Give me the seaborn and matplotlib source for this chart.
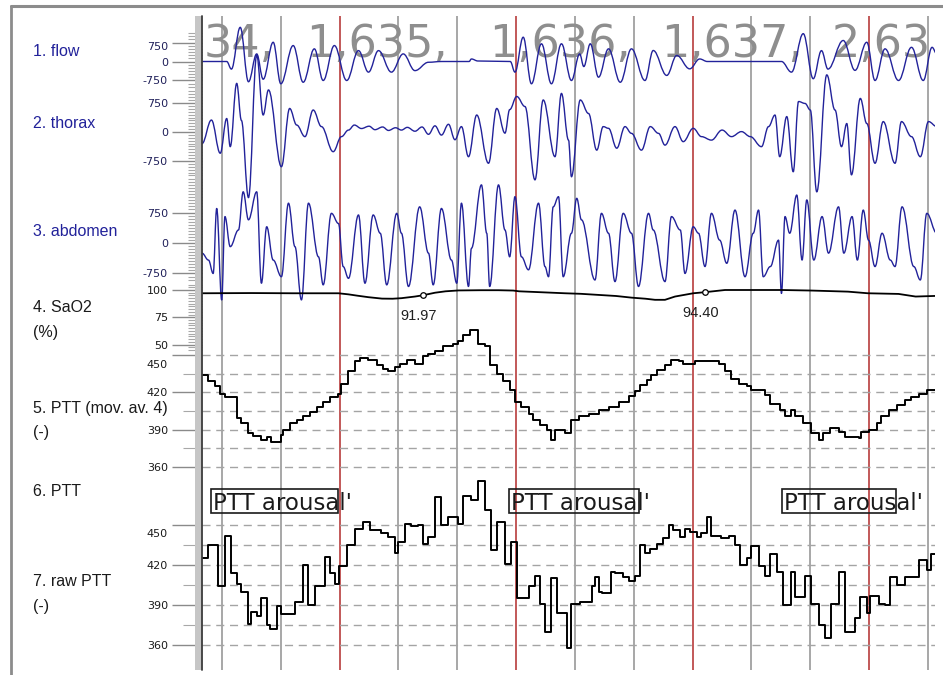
import matplotlib
matplotlib.use("Agg")
import matplotlib.pyplot as plt
import matplotlib.transforms as mtransforms
from matplotlib.patches import Rectangle, PathPatch
from matplotlib.path import Path
from matplotlib.lines import Line2D
import numpy as np
import seaborn as sns

# --- Signals: (time in s, value) ---
flow = [(-3.4, 0), (0.8, 0), (1.6, -300), (3.1, 1350), (4.5, -800), (5.9, 300), (7.0, -700),
        (8.7, 760), (10.0, -880), (12.1, 630), (13.8, -820), (15.7, 500), (17.2, -750), (19.1, 630),
        (21.2, -750), (23.2, 430), (24.9, -420), (26.6, 430), (28.8, -420), (30.8, 300), (32.8, -360),
        (35.1, -30), (37.3, 0), (42.0, 0), (42.4, 100), (43.5, 20), (49.0, 0), (49.8, -420),
        (51.2, 960), (52.6, -880), (54.3, 700), (56.0, -880), (57.7, 700), (59.4, -750), (60.8, 300),
        (61.5, -200), (62.6, 700), (64.0, -620), (65.7, 500), (67.7, -820), (69.6, 500), (71.9, -750),
        (73.3, 435), (75.6, -550), (77.3, 240), (79.5, -290), (81.2, 100), (82.5, 0), (95.1, 0),
        (96.8, -420), (98.8, 1100), (100.5, -680), (101.9, 430), (103.0, -300), (105.6, 830),
        (107.6, -350), (109.6, 760), (111.0, -750), (112.7, 500), (115.0, -750), (117.2, 560),
        (119.2, -750), (120.7, 560), (121.5, 300)]

thorax = [(-3.4, -300), (-1.8, 310), (-0.3, -550), (0.8, 350), (1.4, -380), (2.5, 1260), (3.3, 300),
          (4.5, -1700), (5.9, 1990), (7.0, 440), (7.9, 1090), (10.1, -900), (11.5, 610), (12.7, 180),
          (14.1, -120), (15.5, 570), (16.9, 140), (18.9, -510), (20.3, -120), (21.5, 50), (22.5, 180),
          (23.7, 90), (25.0, 150), (26.0, 60), (27.3, 130), (28.3, 40), (29.5, 110), (30.5, 50),
          (31.5, 120), (32.8, 20), (34.0, 130), (35.1, -60), (36.2, 160), (37.3, -80), (38.5, 200),
          (39.6, -200), (40.7, 140), (41.9, -640), (43.3, 440), (45.3, -810), (46.7, 610), (48.1, -30),
          (48.9, 580), (50.1, 920), (51.5, 660), (53.2, -1240), (54.6, 830), (56.6, -640), (57.7, 1000),
          (58.9, -210), (59.4, -1160), (60.9, 830), (62.3, 480), (63.7, -470), (64.8, 140), (65.7, 95),
          (67.1, -420), (68.5, 140), (69.6, -35), (71.3, -470), (72.8, 140), (74.2, -35), (75.3, -340),
          (77.0, 140), (78.4, -250), (80.1, 95), (81.5, -120), (83.2, -210), (85.0, 50), (86.6, -120),
          (88.3, 10), (89.8, -120), (91.7, -380), (92.9, 140), (94.0, 440), (94.8, -640), (96.0, 400),
          (97.1, -1030), (98.0, 790), (99.1, 740), (100.0, 570), (101.1, -1550), (102.8, 1480),
          (104.2, 570), (105.3, -380), (106.2, 220), (107.0, -1110), (108.5, 870), (109.6, 220),
          (111.0, -810), (112.4, 270), (114.4, -810), (115.5, 270), (117.2, -120), (118.7, -640),
          (120.1, 270), (121.5, 140)]

abdomen = [(-3.4, -250), (-2.3, -420), (-1.5, -750), (-0.9, 850), (-0.05, -1400), (0.5, 650), (1.4, -90),
           (2.8, 320), (3.6, 1260), (4.5, 570), (5.9, 1260), (6.7, -990), (7.6, 400), (8.7, -420),
           (10.1, -830), (11.3, 980), (12.4, -90), (13.5, -1400), (14.7, 980), (16.4, -340), (17.2, -1030),
           (18.6, 730), (19.8, 480), (20.6, -580), (21.5, -870), (23.2, 690), (24.3, -990), (25.7, 690),
           (26.9, 240), (28.0, -1030), (29.7, 730), (30.5, 240), (31.7, -1070), (33.6, 890), (35.1, -250),
           (35.9, -1030), (37.3, 850), (39.0, -420), (39.9, -990), (40.7, 980), (41.9, -1070), (42.4, -130),
           (44.1, 1430), (45.0, 240), (45.5, -1070), (47.0, 1430), (48.1, 320), (48.9, -340), (49.8, 1140),
           (50.9, -340), (52.1, -660), (53.8, 980), (54.9, -580), (55.5, -830), (56.3, 890), (57.2, 1140),
           (58.0, -830), (59.4, 240), (60.3, 1100), (61.1, 570), (63.4, -910), (64.5, 730), (65.7, 240),
           (66.8, -950), (68.2, 730), (69.6, 240), (70.8, -1070), (72.5, 730), (73.3, 320), (75.3, -950),
           (76.4, 650), (77.9, 320), (78.7, -750), (80.1, 400), (81.0, 240), (82.1, -580), (83.2, 730),
           (84.6, 70), (85.8, -500), (87.2, 810), (88.9, -830), (90.3, 240), (91.2, 810), (92.0, -830),
           (93.2, -580), (94.6, 70), (95.1, -1240), (95.7, 650), (96.5, 240), (97.7, 1180), (98.6, -420),
           (99.4, 1060), (100.6, -420), (102.0, 650), (103.1, -250), (104.8, 890), (105.7, -250),
           (107.1, 650), (108.0, -420), (109.0, 810), (109.9, 70), (111.0, -580), (112.2, 240),
           (113.6, -420), (114.4, -580), (115.6, 890), (117.6, -580), (118.7, -910), (119.8, 730),
           (121.5, 240)]

sao2 = [(-3.4, 97.0), (5.0, 97.2), (12.0, 97.0), (19.8, 97.0), (21.5, 96.0), (23.0, 94.8), (24.9, 93.4),
        (27.2, 92.1), (29.0, 92.0), (30.5, 92.5), (32.8, 94.0), (34.2, 95.2), (36.2, 97.5), (38.0, 98.8),
        (40.2, 99.6), (44.0, 99.8), (47.0, 99.8), (49.5, 99.5), (50.5, 98.8), (54.0, 98.0), (58.3, 97.0),
        (61.0, 96.5), (64.0, 95.5), (67.0, 94.5), (69.6, 93.0), (72.0, 92.0), (73.6, 91.0), (75.3, 91.0),
        (77.0, 94.0), (80.1, 97.0), (82.1, 98.0), (85.5, 100.0), (95.1, 100.0), (100.2, 99.5),
        (106.4, 98.5), (109.8, 97.0), (115.0, 96.4), (117.9, 94.0), (121.5, 94.6)]
sao2_min_t = [34.2, 82.1]
sao2_min_v = [95.2, 98.0]
sao2_min_labels = ['91.97', '94.40']

ptt_avg = [(-3.4, 434), (-2.3, 429), (-1.2, 425), (-0.3, 419), (0.5, 416), (2.5, 399), (3.3, 395),
           (4.5, 387), (5.3, 385), (6.7, 382), (7.6, 384), (8.4, 380), (10.1, 386), (10.4, 390), (11.5, 395),
           (12.7, 398), (13.8, 401), (15.0, 404), (16.1, 408), (17.2, 412), (18.4, 416), (19.8, 419),
           (20.3, 427), (21.5, 437), (22.6, 445), (23.5, 448), (24.9, 446), (26.3, 442), (27.4, 439),
           (28.3, 437), (29.4, 440), (30.3, 443), (31.4, 446), (32.8, 443), (34.2, 449), (35.1, 451),
           (36.2, 453), (37.6, 457), (39.3, 459), (40.2, 461), (41.0, 466), (42.1, 470), (43.6, 459),
           (44.7, 457), (45.5, 442), (46.7, 435), (47.8, 429), (48.9, 422), (49.8, 412), (50.9, 408),
           (52.1, 403), (52.9, 398), (54.1, 394), (55.2, 390), (56.0, 382), (56.6, 390), (58.3, 387),
           (59.4, 398), (60.6, 401), (62.3, 403), (64.0, 406), (65.7, 408), (67.4, 412), (69.1, 417),
           (70.2, 421), (71.1, 426), (72.2, 430), (73.0, 434), (73.9, 438), (75.3, 442), (76.4, 446),
           (77.6, 445), (78.4, 443), (80.4, 445), (84.4, 443), (85.5, 437), (86.6, 431), (87.8, 427),
           (89.2, 425), (90.0, 422), (92.3, 418), (93.2, 411), (94.8, 406), (95.7, 401), (96.8, 406),
           (97.4, 401), (98.8, 395), (100.2, 387), (101.4, 382), (102.2, 387), (103.3, 391), (104.8, 388),
           (105.9, 384), (108.2, 383), (108.7, 388), (109.9, 390), (111.3, 395), (112.1, 401), (113.3, 406),
           (114.7, 410), (116.1, 414), (117.2, 416), (118.4, 419), (119.8, 422), (121.5, 422)]

ptt_raw = [(-3.4, 425), (-2.3, 435), (-0.6, 404), (0.5, 442), (1.5, 414), (2.5, 406), (3.3, 400),
           (4.4, 376), (5.0, 385), (5.9, 382), (6.7, 395), (7.6, 375), (8.2, 372), (9.3, 389), (10.0, 383),
           (12.4, 392), (13.8, 420), (14.6, 390), (15.8, 404), (17.5, 426), (18.4, 414), (19.2, 406),
           (19.9, 419), (21.2, 435), (22.6, 447), (24.0, 452), (25.2, 446), (27.1, 444), (28.3, 441),
           (29.4, 429), (30.0, 437), (31.1, 451), (32.2, 449), (33.4, 450), (34.2, 436), (35.1, 441),
           (36.2, 471), (37.3, 450), (38.5, 456), (40.2, 451), (41.0, 472), (42.4, 469), (43.6, 483),
           (44.7, 461), (45.8, 431), (46.7, 452), (48.1, 421), (49.2, 437), (50.1, 395), (52.1, 404),
           (53.2, 412), (54.1, 391), (54.9, 370), (55.9, 410), (56.9, 384), (58.6, 358), (59.4, 391),
           (60.9, 392), (62.9, 404), (63.4, 411), (64.0, 400), (64.6, 399), (66.2, 415), (66.8, 414),
           (68.2, 411), (69.1, 408), (70.2, 412), (71.1, 435), (71.9, 429), (72.8, 432), (73.9, 436),
           (75.0, 440), (75.9, 450), (76.7, 446), (77.9, 441), (78.7, 447), (79.6, 445), (80.7, 441),
           (81.5, 444), (82.4, 456), (83.2, 442), (84.9, 440), (86.1, 442), (87.2, 435), (88.0, 420),
           (89.2, 425), (90.0, 434), (91.2, 419), (92.3, 412), (93.2, 428), (94.3, 415), (95.4, 390),
           (96.8, 415), (97.4, 396), (99.1, 412), (100.2, 391), (101.4, 375), (102.5, 365), (103.6, 391),
           (104.8, 415), (105.9, 370), (107.6, 380), (108.4, 396), (109.6, 384), (110.1, 397),
           (111.6, 391), (112.7, 390), (113.5, 411), (114.7, 405), (116.1, 411), (118.4, 424),
           (119.8, 416), (120.6, 428), (121.5, 428)]

# epoch numbers as they show in the visible window (cut at both ends)
epoch_labels = ['34,', '1,635,', '1,636,', '1,637,', '2,63']
epoch_label_t = [-3.2, 14.3, 45.4, 74.6, 103.7]
grid_t = [0, 10, 30, 40, 60, 70, 90, 100, 120]
epoch_t = [20, 50, 80, 110]
arousal_start = [-1.9, 48.8, 95.2]
arousal_end = [19.7, 70.9, 114.6]
arousal_text = "PTT arousal'"

channel_labels = ['1. flow', '2. thorax', '3. abdomen', '4. SaO2', '(%)',
                  '5. PTT (mov. av. 4)', '(-)', '6. PTT', '7. raw PTT', '(-)']
channel_label_y = [52, 123, 232, 308, 332, 408, 433, 491, 581, 607]
channel_label_blue = [True, True, True, False, False, False, False, False, False, False]

resp_ticks = [-750, 0, 750]
sao2_ticks = [50, 75, 100]
ptt_ticks = [360, 390, 420, 450]
ptt_grid = [360, 375, 390, 405, 420, 435, 450]

# --- Styling ---
sns.set_style("white")
plt.rcParams['font.family'] = ['Liberation Sans', 'DejaVu Sans']

BLUE = '#22229a'
TICK_BLUE = '#20205a'
INK = '#1a1a1a'
W, H = 943, 675
fig = plt.figure(figsize=(W / 100, H / 100), dpi=100)
fig.patch.set_facecolor('white')


def fx(px):
    return px / W


def fy(py):
    return 1 - py / H


PLOT_L, PLOT_R, PLOT_T, PLOT_B = 202, 935, 16, 670
T0_PX, PX_PER_S = 222, 5.883
XLIM = ((PLOT_L - T0_PX) / PX_PER_S, (PLOT_R - T0_PX) / PX_PER_S)
RECT = [fx(PLOT_L), fy(PLOT_B), (PLOT_R - PLOT_L) / W, (PLOT_B - PLOT_T) / H]
TICK_FS = 8
LABEL_RIGHT_PX = 168


def new_axes(z):
    ax = fig.add_axes(RECT, zorder=z)
    ax.patch.set_visible(False)
    for s in ax.spines.values():
        s.set_visible(False)
    return ax


def set_scale(ax, ref_val, ref_px, per_px):
    # value ref_val sits at pixel row ref_px, per_px units per screen pixel
    ax.set_xlim(*XLIM)
    ax.set_ylim(ref_val + (ref_px - PLOT_B) * per_px, ref_val + (ref_px - PLOT_T) * per_px)
    ax.set_xticks([])
    ax.set_xlabel('')
    ax.set_ylabel('')


def style_ticks(ax, major, minor, label_color, minor_len, hide=None):
    ax.set_yticks(major)
    ax.set_yticklabels(['' if v == hide else str(v) for v in major])
    ax.set_yticks(minor, minor=True)
    ax.tick_params(axis='y', which='major', left=True, length=21.6, width=1.0, color='#8a8a8a',
                   pad=2.9, labelsize=TICK_FS, labelcolor=label_color)
    ax.tick_params(axis='y', which='minor', left=True, length=minor_len, width=0.8, color='#a8a8a8')
    for lbl in ax.get_yticklabels():
        lbl.set_fontfamily('DejaVu Sans')


def shifted_label(text, y_px, color):
    # the screen nudges crowded scale labels off their tick
    fig.text(fx(LABEL_RIGHT_PX), fy(y_px), text, fontsize=TICK_FS, family='DejaVu Sans',
             color=color, ha='right', va='center')


def trace(ax, pairs, color, lw, steps=False):
    t = [p[0] for p in pairs]
    v = [p[1] for p in pairs]
    kw = {'drawstyle': 'steps-post'} if steps else {}
    sns.lineplot(x=t, y=v, ax=ax, color=color, linewidth=lw, estimator=None, sort=False, **kw)


def wave(ax, pairs, color, lw):
    # breathing traces: the read turning points joined by flat-tangent Bezier arcs
    verts = [pairs[0]]
    codes = [Path.MOVETO]
    for (t0, v0), (t1, v1) in zip(pairs[:-1], pairs[1:]):
        d = (t1 - t0) * 0.38
        verts += [(t0 + d, v0), (t1 - d, v1), (t1, v1)]
        codes += [Path.CURVE4] * 3
    ax.add_patch(PathPatch(Path(verts, codes), fill=False, edgecolor=color, linewidth=lw,
                           joinstyle='round'))


# --- Grid, epoch numbers ---
ax_g = new_axes(0)
ax_g.set_xlim(*XLIM)
ax_g.set_ylim(0, 1)
ax_g.set_xticks([])
ax_g.set_yticks([])
for t in grid_t:
    ax_g.axvline(t, color='#909090', lw=1.1)
for t in epoch_t:
    ax_g.axvline(t, color='#b83c3c', lw=1.2)
blend_g = mtransforms.blended_transform_factory(ax_g.transData, ax_g.transAxes)
for t, lab in zip(epoch_label_t, epoch_labels):
    ax_g.text(t, (PLOT_B - 57) / (PLOT_B - PLOT_T), lab, transform=blend_g, fontsize=32,
              color='#8e8e8e', family='DejaVu Sans', ha='left', va='baseline', clip_on=True)

# --- Respiratory channels ---
ax_abd = new_axes(1)
wave(ax_abd, abdomen, BLUE, 1.0)
set_scale(ax_abd, 0, 243, 24.6)
style_ticks(ax_abd, resp_ticks, np.arange(-900, 1576, 75), TICK_BLUE, 10)

ax_tho = new_axes(2)
wave(ax_tho, thorax, BLUE, 1.0)
set_scale(ax_tho, 0, 132, 25.9)
style_ticks(ax_tho, resp_ticks, np.arange(-1125, 1051, 75), TICK_BLUE, 10)

ax_flow = new_axes(3)
wave(ax_flow, flow, BLUE, 1.0)
set_scale(ax_flow, 0, 61.5, 39.5)
style_ticks(ax_flow, resp_ticks, np.arange(-1000, 1126, 125), TICK_BLUE, 10, hide=750)
shifted_label('750', 46.5, TICK_BLUE)

# --- SaO2 ---
ax_sat = new_axes(4)
trace(ax_sat, sao2, 'black', 1.3)
sns.scatterplot(x=sao2_min_t, y=sao2_min_v, ax=ax_sat, marker='o', s=16, color='white',
                edgecolor='black', linewidth=0.9, zorder=5)
for t, v, lab in zip(sao2_min_t, sao2_min_v, sao2_min_labels):
    ax_sat.annotate(lab, (t, v), xytext=(-3, -15), textcoords='offset points', ha='center',
                    va='center', fontsize=10.5, color='#202020')
set_scale(ax_sat, 100, 290, 0.917)
style_ticks(ax_sat, sao2_ticks, np.arange(45, 105.1, 2.5), INK, 10)

# --- PTT moving average ---
ax_avg = new_axes(5)
for v in ptt_grid:
    ax_avg.axhline(v, color='#a4a4a4', lw=1.0, ls=(0, (5.8, 4.1)))
trace(ax_avg, ptt_avg, 'black', 1.4, steps=True)
set_scale(ax_avg, 360, 467, 0.804)
style_ticks(ax_avg, ptt_ticks, [375, 405, 435], INK, 13.7, hide=450)
shifted_label('450', 365, INK)

# --- Raw PTT ---
ax_raw = new_axes(6)
for v in ptt_grid:
    ax_raw.axhline(v, color='#a4a4a4', lw=1.0, ls=(0, (5.8, 4.1)))
trace(ax_raw, ptt_raw, 'black', 1.4, steps=True)
set_scale(ax_raw, 360, 645, 0.75)
style_ticks(ax_raw, ptt_ticks, [375, 405, 435], INK, 13.7, hide=450)
shifted_label('450', 534, INK)

blend_r = mtransforms.blended_transform_factory(ax_raw.transData, ax_raw.transAxes)
box_y0 = (PLOT_B - 513) / (PLOT_B - PLOT_T)
box_h = 24 / (PLOT_B - PLOT_T)
text_y = (PLOT_B - 510) / (PLOT_B - PLOT_T)
for t0, t1 in zip(arousal_start, arousal_end):
    ax_raw.add_patch(Rectangle((t0, box_y0), t1 - t0, box_h, transform=blend_r, fill=False,
                               edgecolor=INK, linewidth=1.2, zorder=6))
    ax_raw.text(t0 + 0.35, text_y, arousal_text, transform=blend_r, fontsize=16.5,
                family='DejaVu Sans', color=INK, ha='left', va='baseline', zorder=6)

# --- Channel names ---
for lab, y, blue in zip(channel_labels, channel_label_y, channel_label_blue):
    fig.text(fx(33), fy(y), lab, fontsize=11.5, color=BLUE if blue else INK,
             ha='left', va='center')

# --- Screen chrome: scale bar and window frame ---
fig.add_artist(Rectangle((fx(195), fy(PLOT_B)), 7 / W, (PLOT_B - PLOT_T) / H,
                         transform=fig.transFigure, facecolor='#c6c6c6', edgecolor='none', zorder=20))
fig.add_artist(Line2D([fx(202.3), fx(202.3)], [fy(PLOT_B), fy(PLOT_T)], transform=fig.transFigure,
                      color='#3c3c3c', lw=1.3, zorder=21))
fig.add_artist(Line2D([fx(11), fx(943)], [fy(6), fy(6)], transform=fig.transFigure,
                      color='#8c8c8c', lw=2.2, zorder=21))
fig.add_artist(Line2D([fx(11), fx(11)], [fy(6), fy(675)], transform=fig.transFigure,
                      color='#8c8c8c', lw=2.0, zorder=21))

fig.savefig('out.png', dpi=100)
